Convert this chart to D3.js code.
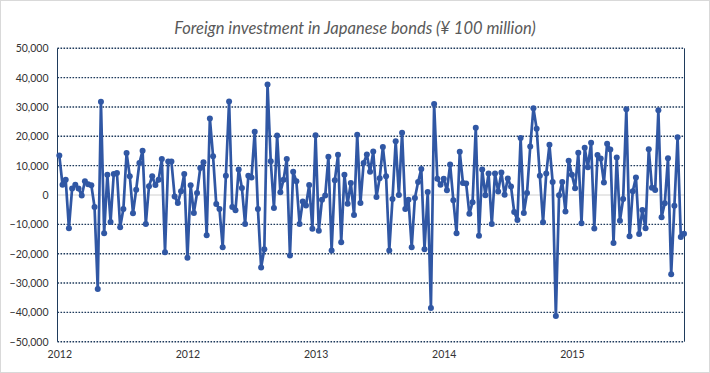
<!DOCTYPE html>
<html>
<head>
<meta charset="utf-8">
<script src="https://cdn.jsdelivr.net/npm/d3@7"></script>
<style>
  body { margin: 0; background: #fff; }
  svg { display: block; }
</style>
</head>
<body>
<div id="chart"></div>
<script>
// weekly foreign net purchase of Japanese bonds (100 million yen)
var values = [
  13500, 3500, 5200, -11300, 2200, 3500, 2200, -200, 4700, 3700,
  3300, -4100, -32000, 31800, -13000, 6900, -9200, 7200, 7500, -11000,
  -4800, 14300, 6400, -6200, 1800, 10900, 15100, -9900, 3000, 6400,
  3400, 5200, 12300, -19500, 11400, 11400, -500, -2700, 1300, 7200,
  -21400, 3300, -6100, 700, 9200, 11200, -13700, 26100, 13200, -3100,
  -4800, -17800, 6600, 31900, -4100, -5200, 8700, 2400, -9900, 6600,
  6000, 21600, -4800, -24700, -18500, 37700, 11500, -4400, 20300, 900,
  5200, 12300, -20600, 7900, 4700, -9900, -2200, -3600, 3400, -11500,
  20400, -12200, -1600, -200, 13000, -18900, 5000, 13700, -16100, 6900,
  -3000, 4100, -6800, 20500, -2700, 10900, 13800, 7900, 14800, -700,
  5700, 16400, 6400, -18900, -1400, 18300, 0, 21200, -4800, -1600,
  -17800, -1000, 4400, 8900, -18500, 1000, -38500, 31000, 5500, 3500,
  5500, 1600, 10400, -1800, -13000, 14700, 4100, 3900, -6400, -2500,
  22900, -13900, 8700, -100, 7300, -9900, 7300, 1200, 7700, 100,
  5600, 2900, -5800, -8500, 19400, -6100, 700, 16500, 29600, 22600,
  6600, -9300, 7300, 17100, 4400, -41200, -100, 4400, -5600, 11700,
  6900, 2300, 14400, -9600, 16100, 9500, 17800, -11400, 13600, 12400,
  4300, 17500, 15500, -16400, 12800, -8800, -1400, 29200, -14100, 1300,
  6000, -13300, -5100, -11300, 15600, 2500, 1700, 28900, -7600, -2800,
  12500, -27000, -3700, 19700, -14300, -13200
];

// category labels shown every 40 weeks
var labelIndex = [0, 40, 80, 120, 160];
var labelText = ['2012', '2012', '2013', '2014', '2015'];

var yTicks = [50000, 40000, 30000, 20000, 10000, 0, -10000, -20000, -30000, -40000, -50000];

var titleText = 'Foreign investment in Japanese bonds (\u00A5 100 million)';

var svgWidth = 710;
var svgHeight = 373;

var plot = { left: 57.5, right: 684.5, top: 48.3, bottom: 341.7 };

var svg = d3.select('#chart')
  .append('svg')
  .attr('width', svgWidth)
  .attr('height', svgHeight);

// chart area border
svg.append('rect')
  .attr('x', 0.5)
  .attr('y', 0.5)
  .attr('width', svgWidth - 1)
  .attr('height', svgHeight - 1)
  .attr('fill', '#fff')
  .attr('stroke', '#d9d9d9');

svg.append('text')
  .attr('x', 355)
  .attr('y', 34)
  .attr('text-anchor', 'middle')
  .attr('font-family', 'Lato, sans-serif')
  .attr('font-style', 'italic')
  .attr('font-size', '16.5px')
  .attr('fill', '#595959')
  .text(titleText);

var xScale = d3.scaleLinear()
  .domain([0, values.length - 1])
  .range([59.3, 684]);

var yScale = d3.scaleLinear()
  .domain([-50000, 50000])
  .range([plot.bottom, plot.top]);

// dotted gridlines (zero is drawn as the category axis)
svg.append('g')
  .selectAll('line')
  .data(yTicks.filter(d => d !== 0))
  .enter()
  .append('line')
  .attr('x1', plot.left)
  .attr('x2', plot.right)
  .attr('y1', d => yScale(d))
  .attr('y2', d => yScale(d))
  .attr('stroke', '#1f3b5c')
  .attr('stroke-width', 1.4)
  .attr('stroke-dasharray', '1.6,1.4');

svg.append('line')
  .attr('x1', plot.left)
  .attr('x2', plot.right)
  .attr('y1', yScale(0))
  .attr('y2', yScale(0))
  .attr('stroke', '#d0d0d0')
  .attr('stroke-width', 1);

// left and right plot borders
[plot.left, plot.right].forEach(function (x) {
  svg.append('line')
    .attr('x1', x)
    .attr('x2', x)
    .attr('y1', plot.top)
    .attr('y2', plot.bottom)
    .attr('stroke', '#1f3b5c')
    .attr('stroke-width', 1);
});

// y axis labels
var leftAxis = d3.axisLeft(yScale)
  .tickValues(yTicks)
  .tickSize(0)
  .tickPadding(9)
  .tickFormat(d3.format(','));

var yAxisG = svg.append('g')
  .attr('transform', `translate(${plot.left}, 0)`)
  .call(leftAxis);
yAxisG.select('.domain').remove();
yAxisG.selectAll('text')
  .attr('font-family', 'Lato, sans-serif')
  .attr('font-size', '10.5px')
  .attr('fill', '#333');

// x axis labels
var bottomAxis = d3.axisBottom(xScale)
  .tickValues(labelIndex)
  .tickSize(0)
  .tickPadding(9)
  .tickFormat((d, i) => labelText[i]);

var xAxisG = svg.append('g')
  .attr('transform', `translate(0, ${plot.bottom})`)
  .call(bottomAxis);
xAxisG.select('.domain').remove();
xAxisG.selectAll('text')
  .attr('font-family', 'Lato, sans-serif')
  .attr('font-size', '10.5px')
  .attr('fill', '#333');

// series
var line = d3.line()
  .x((d, i) => xScale(i))
  .y(d => yScale(d));

svg.append('path')
  .datum(values)
  .attr('d', line)
  .attr('fill', 'none')
  .attr('stroke', '#3057a4')
  .attr('stroke-width', 2.7)
  .attr('stroke-linejoin', 'round');

svg.append('g')
  .selectAll('circle')
  .data(values)
  .enter()
  .append('circle')
  .attr('cx', (d, i) => xScale(i))
  .attr('cy', d => yScale(d))
  .attr('r', 3)
  .attr('fill', '#3057a4');
</script>
</body>
</html>
